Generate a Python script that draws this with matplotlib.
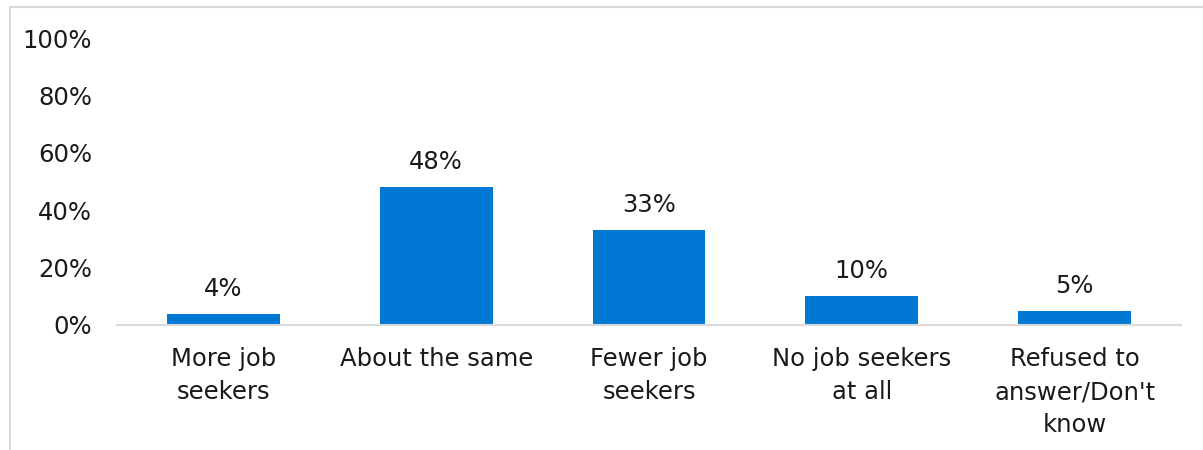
import matplotlib.pyplot as plt
from matplotlib.patches import Rectangle

categories = [
    "More job\nseekers",
    "About the same",
    "Fewer job\nseekers",
    "No job seekers\nat all",
    "Refused to\nanswer/Don't\nknow",
]
shares = [4, 48, 33, 10, 5]
y_ticks = [0, 20, 40, 60, 80, 100]

bar_color = "#0078D4"
text_color = "#1a1a1a"

plt.rcParams["font.family"] = ["DejaVu Sans"]

W, H = 1203, 450
fig = plt.figure(figsize=(W / 100, H / 100), dpi=100)

# light frame around the chart area (open on the right and bottom)
fig.add_artist(Rectangle((10 / W, -0.1), 1.2, 1 - 7 / H + 0.1,
                         transform=fig.transFigure, fill=False,
                         edgecolor="#d9d9d9", linewidth=1.5))

ax = fig.add_axes([117 / W, 1 - 325 / H, (1181 - 117) / W, (325 - 38) / H])
x = range(len(categories))
bars = ax.bar(x, shares, width=0.53, color=bar_color)
ax.set_xlim(-0.5, len(categories) - 0.5)
ax.set_ylim(0, 100)

fs = 17.5
for rect, val in zip(bars, shares):
    ax.text(rect.get_x() + rect.get_width() / 2, val + 4.5, f"{val}%",
            ha="center", va="bottom", fontsize=fs, color=text_color)

ax.set_yticks(y_ticks)
ax.set_yticklabels([f"{v}%" for v in y_ticks], fontsize=fs, color=text_color)
ax.set_xticks(list(x))
ax.set_xticklabels(categories, fontsize=fs, color=text_color, linespacing=1.48)
ax.tick_params(axis="y", length=0, pad=18)
ax.tick_params(axis="x", length=0, pad=16)

for side in ["top", "right", "left"]:
    ax.spines[side].set_visible(False)
ax.spines["bottom"].set_color("#d9d9d9")
ax.spines["bottom"].set_linewidth(1.5)

fig.savefig("out.png", dpi=100)
